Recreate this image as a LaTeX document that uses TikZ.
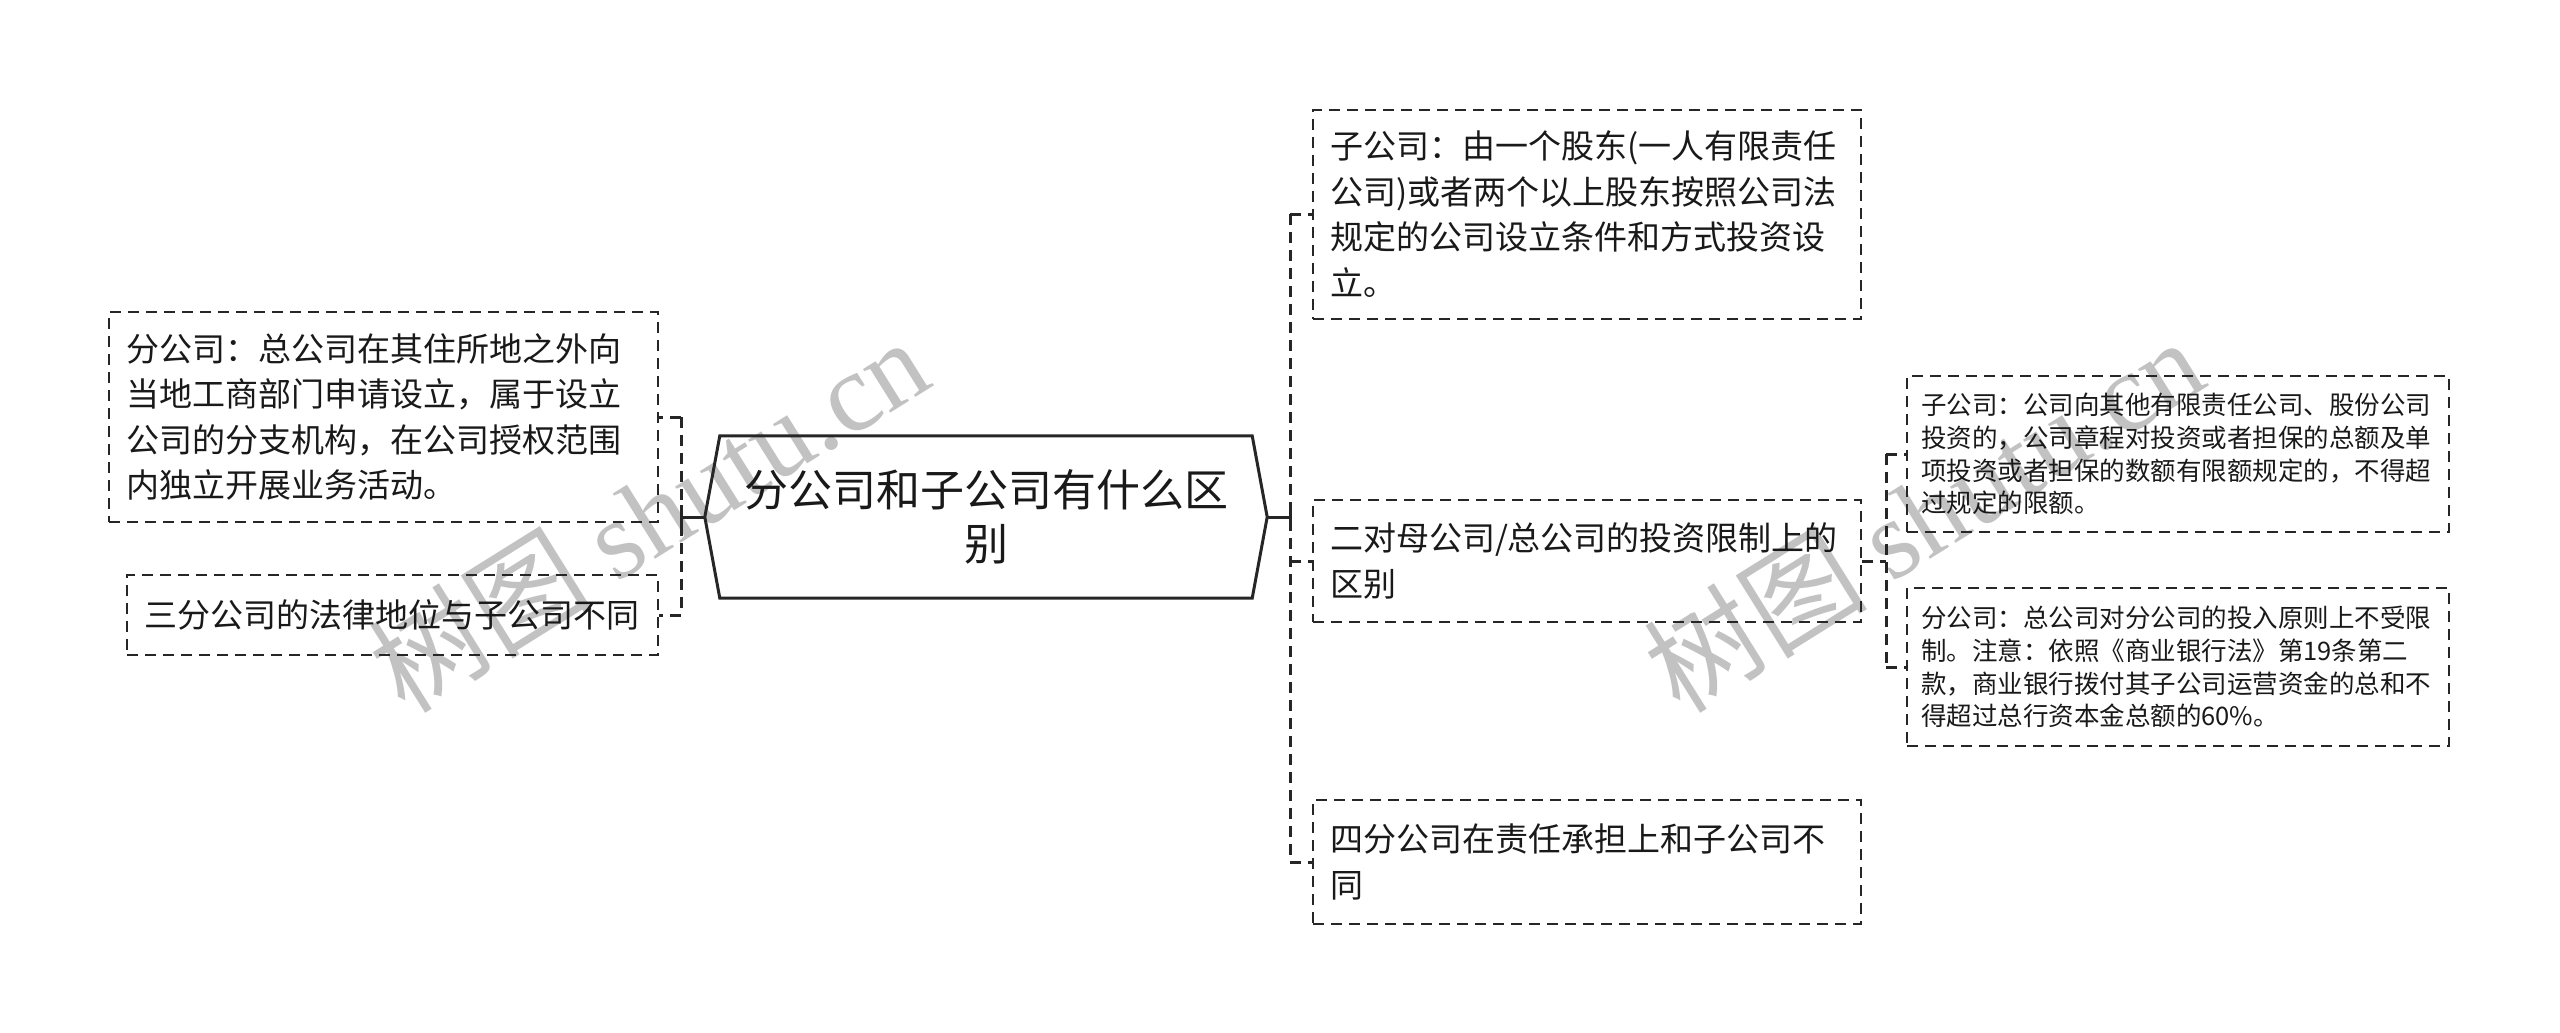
\documentclass[tikz,border=0pt]{standalone}
\usepackage{fontspec}
\setmainfont{Noto Sans CJK SC}
\newfontfamily\wmlatin{Liberation Serif}
\begin{document}
\begin{tikzpicture}[x=1pt,y=-1pt,
  box/.style={draw=black!85, line width=2pt, dash pattern=on 11pt off 7pt, align=left, inner xsep=17pt, inner ysep=0pt, text=black!90},
  midbox/.style={box, font=\fontsize{33}{45.5}\selectfont},
  smallbox/.style={box, inner xsep=14pt, font=\fontsize{25.5}{32.7}\selectfont},
  conn/.style={draw=black!85, line width=3pt, dash pattern=on 11pt off 7pt},
  trunk/.style={draw=black!85, line width=3pt},
  wm/.style={text=black!24, rotate=32, font=\fontsize{112}{112}\selectfont}
]
\useasboundingbox (0,0) rectangle (2560,1033);
% watermarks
\node[wm] (wm1) at (648,514) {树图 {\wmlatin shutu.cn}};
\node[wm] (wm2) at (1923,514) {树图 {\wmlatin shutu.cn}};
% root
\node[minimum width=562pt, minimum height=162pt, align=center, inner sep=0pt,
      font=\fontsize{44}{54}\selectfont, text=black!90] (root) at (986,517) {分公司和子公司有什么区\\别};
\draw[line width=3pt, draw=black!85, line join=miter] (root.west) -- ([xshift=15pt]root.north west) -- ([xshift=-15pt]root.north east) -- (root.east) -- ([xshift=-15pt]root.south east) -- ([xshift=15pt]root.south west) -- cycle;
% left
\node[midbox, text width=515pt, minimum height=210pt] (L1) at (383.5,417) {分公司：总公司在其住所地之外向\\当地工商部门申请设立，属于设立\\公司的分支机构，在公司授权范围\\内独立开展业务活动。};
\node[midbox, text width=497pt, minimum height=80pt] (L2) at (392.5,615) {三分公司的法律地位与子公司不同};
% right
\node[midbox, text width=514pt, minimum height=209pt] (R1) at (1587,214) {子公司：由一个股东(一人有限责任\\公司)或者两个以上股东按照公司法\\规定的公司设立条件和方式投资设\\立。};
\node[midbox, text width=514pt, minimum height=122pt] (R2) at (1587,561) {二对母公司/总公司的投资限制上的\\区别};
\node[midbox, text width=514pt, minimum height=124pt] (R3) at (1587,862) {四分公司在责任承担上和子公司不\\同};
% sub
\node[smallbox, text width=514pt, minimum height=156pt] (A) at (2178,454) {子公司：公司向其他有限责任公司、股份公司\\投资的，公司章程对投资或者担保的总额及单\\项投资或者担保的数额有限额规定的，不得超\\过规定的限额。};
\node[smallbox, text width=514pt, minimum height=158pt] (B) at (2178,667) {分公司：总公司对分公司的投入原则上不受限\\制。注意：依照《商业银行法》第19条第二\\款，商业银行拨付其子公司运营资金的总和不\\得超过总行资本金总额的60\%。};
% left connectors
\coordinate (lj) at (681,517);
\draw[trunk] (root.west) -- (lj);
\draw[trunk] ([yshift=-12pt]lj) -- ([yshift=12pt]lj);
\draw[conn] (lj |- L1.east) -- (lj |- L2.east);
\draw[conn] (lj |- L1.east) -- (L1.east);
\draw[conn] (lj |- L2.east) -- (L2.east);
% right connectors
\coordinate (rj) at (1290,517);
\draw[trunk] (root.east) -- (rj);
\draw[trunk] ([yshift=-12pt]rj) -- ([yshift=12pt]rj);
\draw[conn] (rj |- R1.west) -- (rj |- R3.west);
\draw[conn] (rj |- R1.west) -- (R1.west);
\draw[conn] (rj |- R2.west) -- (R2.west);
\draw[conn] (rj |- R3.west) -- (R3.west);
% sub connectors
\coordinate (sj) at (1886,561);
\draw[conn] (R2.east) -- (sj);
\draw[conn] (sj |- A.west) -- (sj |- B.west);
\draw[conn] (sj |- A.west) -- (A.west);
\draw[conn] (sj |- B.west) -- (B.west);
\end{tikzpicture}
\end{document}
